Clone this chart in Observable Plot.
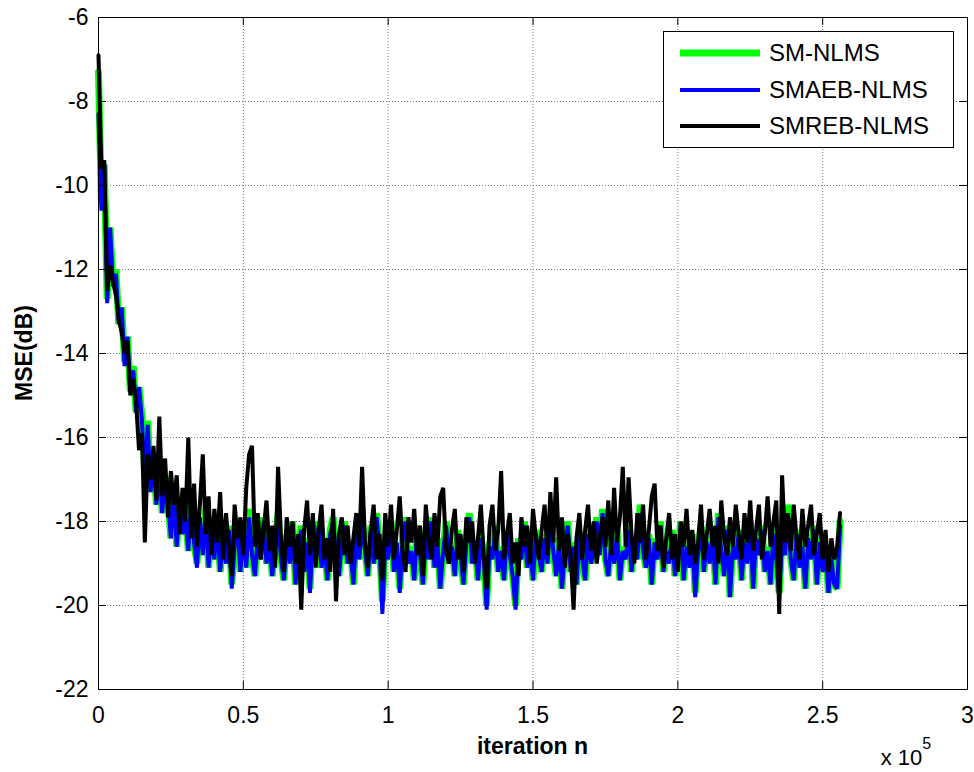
<!DOCTYPE html>
<html><head><meta charset="utf-8">
<script src="https://cdn.jsdelivr.net/npm/d3@7"></script>
<script src="https://cdn.jsdelivr.net/npm/@observablehq/plot@0.6"></script>
<style>
html,body{margin:0;padding:0;background:#fff;}
#wrap{position:relative;width:974px;height:772px;overflow:hidden;}
#legend{position:absolute;left:663px;top:31px;}
</style>
</head><body>
<div id="wrap"><div id="chart"></div><div id="legend"></div></div>
<script>
// ---- data ----
const seriesNames = ["SM-NLMS", "SMAEB-NLMS", "SMREB-NLMS"];
const sampleStep = 1000; // iterations between plotted samples
const xTickValues = [0, 50000, 100000, 150000, 200000, 250000, 300000];
const yTickValues = [-22, -20, -18, -16, -14, -12, -10, -8, -6];

const smNlms = [
-7.3,-10.4,-9.5,-12.7,-11.0,-12.4,-12.0,-13.3,-12.9,-14.2,
-13.6,-14.9,-14.3,-15.4,-14.8,-15.5,-16.9,-15.6,-17.3,-16.4,
-17.6,-16.6,-17.8,-16.9,-17.5,-18.4,-17.2,-18.6,-17.5,-18.3,
-17.8,-18.7,-17.4,-18.5,-19.0,-17.9,-18.8,-17.7,-19.1,-18.2,
-18.9,-17.9,-19.2,-18.4,-19.0,-18.1,-19.5,-18.6,-18.0,-19.2,
-18.3,-19.1,-17.7,-18.8,-19.3,-18.2,-18.9,-17.9,-19.0,-18.4,
-19.3,-18.5,-17.8,-18.9,-19.4,-18.3,-19.0,-18.0,-19.5,-18.6,
-18.1,-19.2,-18.4,-19.6,-18.3,-18.9,-18.0,-19.1,-18.5,-19.4,
-18.2,-17.9,-18.8,-19.3,-18.4,-18.0,-19.0,-18.6,-19.5,-18.2,
-18.9,-17.9,-18.7,-19.3,-18.1,-19.0,-17.8,-18.6,-19.9,-18.4,
-18.9,-18.0,-19.2,-18.5,-19.6,-18.3,-17.9,-19.0,-18.6,-19.4,
-18.1,-18.8,-19.5,-18.2,-18.9,-17.9,-19.1,-18.4,-19.6,-18.7,
-18.0,-19.0,-18.5,-19.3,-18.2,-18.8,-19.5,-18.4,-17.8,-19.0,
-18.6,-19.4,-18.3,-18.9,-20.0,-18.5,-18.9,-18.1,-19.2,-18.6,
-19.4,-18.2,-18.8,-19.3,-20.0,-18.4,-18.9,-18.0,-19.1,-18.5,
-19.4,-18.2,-18.8,-19.2,-18.3,-19.0,-17.9,-18.7,-19.3,-18.4,
-19.6,-18.6,-18.0,-19.2,-18.5,-19.5,-18.3,-18.9,-19.4,-18.2,
-19.0,-18.6,-17.9,-18.8,-17.7,-18.9,-19.3,-18.4,-19.0,-18.2,
-19.4,-18.6,-18.9,-18.1,-19.2,-18.5,-18.9,-17.6,-18.7,-19.1,
-18.3,-19.5,-18.4,-18.9,-18.0,-19.2,-18.6,-19.0,-18.2,-19.3,
-18.8,-18.0,-19.4,-18.5,-19.1,-18.3,-19.7,-18.6,-18.1,-19.2,
-18.4,-19.0,-18.2,-19.5,-17.8,-18.7,-19.3,-18.1,-19.8,-18.5,
-18.9,-18.2,-19.4,-18.4,-19.0,-18.0,-19.6,-18.3,-18.8,-18.1,
-19.2,-18.6,-19.5,-18.2,-18.9,-19.7,-18.3,-18.8,-17.6,-18.9,
-19.4,-18.2,-19.1,-18.5,-19.6,-18.3,-18.9,-18.1,-19.5,-18.4,
-19.2,-18.6,-19.7,-18.8,-19.5,-19.6,-18.0
];

const smaebNlms = [
-8.3,-10.6,-9.5,-12.8,-11.0,-12.4,-12.1,-13.3,-12.9,-14.3,
-13.6,-14.9,-14.4,-15.4,-14.8,-15.6,-17.0,-15.7,-17.3,-16.5,
-17.6,-16.7,-17.8,-17.0,-17.5,-18.4,-17.3,-18.6,-17.6,-18.3,
-17.9,-18.7,-17.5,-18.5,-19.1,-17.9,-18.8,-17.8,-19.1,-18.2,
-18.9,-18.0,-19.2,-18.4,-19.0,-18.2,-19.6,-18.6,-18.1,-19.2,
-18.3,-19.1,-17.9,-18.8,-19.3,-18.3,-18.9,-18.0,-19.0,-18.5,
-19.3,-18.5,-18.0,-18.9,-19.4,-18.4,-19.0,-18.1,-19.5,-18.6,
-18.2,-19.2,-18.5,-19.7,-18.3,-18.9,-18.1,-19.1,-18.5,-19.4,
-18.3,-18.0,-18.8,-19.3,-18.5,-18.1,-19.0,-18.7,-19.5,-18.3,
-18.9,-18.0,-18.7,-19.3,-18.2,-19.0,-17.9,-18.6,-20.2,-18.5,
-18.9,-18.1,-19.2,-18.5,-19.7,-18.4,-18.0,-19.0,-18.7,-19.4,
-18.2,-18.8,-19.5,-18.3,-18.9,-18.0,-19.1,-18.5,-19.6,-18.7,
-18.1,-19.0,-18.6,-19.3,-18.3,-18.8,-19.5,-18.5,-17.9,-19.0,
-18.6,-19.4,-18.4,-18.9,-20.1,-18.6,-18.9,-18.2,-19.2,-18.7,
-19.4,-18.3,-18.8,-19.3,-20.1,-18.5,-18.9,-18.1,-19.1,-18.6,
-19.4,-18.3,-18.8,-19.2,-18.4,-19.0,-18.0,-18.7,-19.3,-18.5,
-19.6,-18.7,-18.1,-19.2,-18.6,-19.5,-18.4,-18.9,-19.4,-18.3,
-19.0,-18.7,-18.0,-18.8,-17.8,-18.9,-19.3,-18.5,-19.0,-18.3,
-19.4,-18.7,-18.9,-18.2,-19.2,-18.6,-18.9,-17.8,-18.7,-19.1,
-18.4,-19.5,-18.5,-18.9,-18.1,-19.2,-18.7,-19.0,-18.3,-19.3,
-18.8,-18.1,-19.4,-18.6,-19.1,-18.4,-19.8,-18.7,-18.2,-19.2,
-18.5,-19.0,-18.3,-19.5,-17.9,-18.7,-19.3,-18.2,-19.8,-18.6,
-18.9,-18.3,-19.4,-18.5,-19.0,-18.1,-19.6,-18.4,-18.8,-18.2,
-19.2,-18.7,-19.5,-18.3,-18.9,-19.8,-18.4,-18.8,-17.8,-18.9,
-19.4,-18.3,-19.1,-18.6,-19.6,-18.4,-18.9,-18.2,-19.5,-18.5,
-19.2,-18.7,-19.7,-18.9,-19.5,-19.6,-18.1
];

const smrebNlms = [
-6.9,-9.6,-9.4,-12.5,-11.9,-12.3,-12.6,-13.2,-13.5,-14.0,
-13.7,-15.0,-14.6,-15.2,-16.3,-15.9,-18.5,-16.4,-17.0,-16.2,
-17.5,-15.5,-17.4,-16.5,-17.9,-16.8,-17.6,-16.9,-18.3,-17.2,
-18.0,-16.0,-18.4,-17.1,-18.6,-17.6,-16.4,-18.3,-17.4,-18.8,
-17.7,-18.5,-17.3,-18.9,-17.8,-18.6,-19.3,-17.6,-18.4,-17.9,
-18.8,-17.2,-16.4,-16.2,-18.6,-17.8,-18.9,-18.2,-17.5,-18.7,
-18.1,-19.1,-16.7,-18.4,-19.2,-17.9,-18.6,-18.0,-19.0,-18.3,
-20.1,-18.2,-17.5,-18.8,-17.8,-19.1,-18.2,-17.6,-18.9,-18.4,
-19.2,-17.7,-19.9,-18.3,-17.9,-18.8,-18.1,-19.0,-18.4,-17.8,
-18.6,-16.7,-18.5,-19.1,-18.2,-17.6,-18.9,-18.3,-19.4,-17.8,
-18.6,-17.6,-18.9,-18.2,-17.4,-18.7,-19.2,-17.9,-18.5,-17.7,
-18.8,-18.1,-19.3,-17.6,-18.4,-18.9,-17.8,-18.6,-17.4,-17.2,
-18.7,-19.0,-18.2,-17.7,-18.9,-18.3,-19.2,-17.9,-18.5,-18.0,
-19.0,-18.4,-17.6,-18.8,-19.6,-18.1,-17.6,-18.7,-18.2,-16.8,
-18.9,-18.3,-17.8,-19.0,-18.5,-19.3,-17.9,-18.6,-18.1,-19.0,
-17.7,-18.4,-18.9,-18.2,-17.6,-18.8,-17.3,-18.5,-16.95,-18.7,
-17.9,-19.1,-18.3,-18.8,-20.1,-18.4,-17.8,-18.9,-18.2,-17.6,
-18.7,-18.0,-19.0,-18.4,-17.9,-18.6,-17.5,-18.8,-17.2,-18.5,
-17.9,-16.7,-18.6,-16.95,-18.3,-19.0,-17.8,-18.5,-17.6,-18.9,
-18.2,-17.4,-17.1,-18.7,-18.1,-19.1,-18.4,-17.8,-18.9,-18.3,
-19.2,-18.0,-18.6,-17.7,-18.8,-18.2,-19.0,-18.5,-17.6,-18.9,
-18.3,-17.7,-18.6,-18.1,-19.0,-17.5,-18.4,-18.8,-17.9,-18.6,
-17.6,-18.3,-18.9,-17.8,-18.5,-17.5,-18.7,-18.2,-17.6,-18.9,
-18.3,-17.4,-18.6,-18.0,-17.5,-20.2,-16.9,-18.5,-17.8,-18.7,
-17.6,-18.4,-18.9,-17.7,-18.6,-18.1,-17.6,-18.8,-18.3,-17.8,
-18.9,-18.2,-19.2,-18.4,-18.9,-18.6,-17.8
];

const seriesColors = ["#00ff00", "#0000ff", "#000000"];
const seriesWidths = [7, 4, 4];

// ---- build tidy rows ----
const seriesValues = [smNlms, smaebNlms, smrebNlms];
const rows = seriesValues.map((vals, s) =>
  vals.map((v, i) => ({series: seriesNames[s], n: i * sampleStep, mse: v}))
);

const W = 974, H = 772;
const mL = 98, mR = 7, mT = 17, mB = 83;
const innerW = W - mL - mR, innerH = H - mT - mB;
const tickLen = 8;
const font = "'Liberation Sans', Arial, Helvetica, sans-serif";

const chart = Plot.plot({
  width: W, height: H,
  marginLeft: mL, marginRight: mR, marginTop: mT, marginBottom: mB,
  style: {fontFamily: font, fontSize: "23px", background: "#fff", color: "#000"},
  x: {domain: [0, 300000], ticks: xTickValues},
  y: {domain: [-22, -6], ticks: yTickValues},
  marks: [
    Plot.gridX(xTickValues, {stroke: "#7a7a7a", strokeOpacity: 1, strokeDasharray: "1,2", strokeWidth: 1}),
    Plot.gridY(yTickValues, {stroke: "#7a7a7a", strokeOpacity: 1, strokeDasharray: "1,2", strokeWidth: 1}),
    ...rows.map((r, s) => Plot.line(r, {x: "n", y: "mse", stroke: seriesColors[s], strokeWidth: seriesWidths[s], strokeLinejoin: "miter", strokeMiterlimit: 2})),
    // inward tick marks (MATLAB style), on all four sides
    Plot.ruleX(xTickValues, {x: d => d, insetTop: innerH - tickLen, stroke: "#000"}),
    Plot.ruleX(xTickValues, {x: d => d, insetBottom: innerH - tickLen, stroke: "#000"}),
    Plot.ruleY(yTickValues, {y: d => d, insetRight: innerW - tickLen, stroke: "#000"}),
    Plot.ruleY(yTickValues, {y: d => d, insetLeft: innerW - tickLen, stroke: "#000"}),
    Plot.frame({stroke: "#000", strokeWidth: 1}),
    Plot.axisX(xTickValues, {tickSize: 0, tickPadding: 17, tickFormat: d => String(d / 1e5), fontSize: 23, label: null}),
    Plot.axisY(yTickValues, {tickSize: 0, tickPadding: 10, tickFormat: d => String(d), fontSize: 23, label: null})
  ]
});
document.getElementById("chart").appendChild(chart);

// axis titles and exponent note
const svg = d3.select(chart);
svg.append("text")
  .attr("x", mL + innerW / 2).attr("y", 754)
  .attr("text-anchor", "middle")
  .attr("font-family", font).attr("font-size", 23).attr("font-weight", "bold")
  .text("iteration n");
svg.append("text")
  .attr("transform", `translate(32,${mT + innerH / 2}) rotate(-90)`)
  .attr("text-anchor", "middle")
  .attr("font-family", font).attr("font-size", 23).attr("font-weight", "bold")
  .text("MSE(dB)");
const ex = svg.append("text")
  .attr("x", 906).attr("y", 765)
  .attr("font-family", font).attr("font-size", 22);
ex.append("tspan").text("x 10");
ex.append("tspan").attr("dy", -16).attr("font-size", 16).text("5");

// legend
const lg = d3.select("#legend").append("svg").attr("width", 292).attr("height", 118);
lg.append("rect").attr("x", 0.5).attr("y", 0.5).attr("width", 290).attr("height", 116)
  .attr("fill", "#fff").attr("stroke", "#000");
const rowY = [22, 59, 95];
seriesNames.forEach((name, i) => {
  lg.append("line").attr("x1", 17).attr("x2", 97).attr("y1", rowY[i]).attr("y2", rowY[i])
    .attr("stroke", seriesColors[i]).attr("stroke-width", seriesWidths[i]);
  lg.append("text").attr("x", 106).attr("y", rowY[i] + 8)
    .attr("font-family", font).attr("font-size", 24).text(name);
});
</script>
</body></html>
